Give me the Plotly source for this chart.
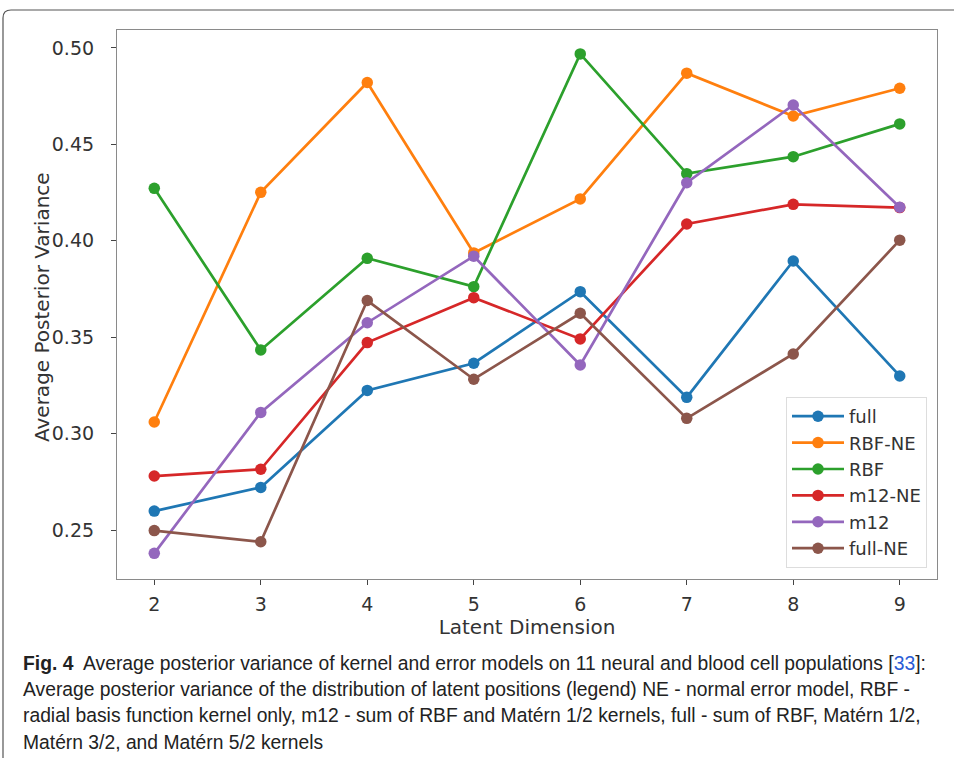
import plotly.graph_objects as go

dims = [2, 3, 4, 5, 6, 7, 8, 9]
full = [0.2598, 0.2721, 0.3224, 0.3365, 0.3736, 0.3188, 0.3895, 0.3299]
rbf_ne = [0.3060, 0.4251, 0.4821, 0.3937, 0.4217, 0.4869, 0.4647, 0.4791]
rbf = [0.4272, 0.3434, 0.3909, 0.3762, 0.4969, 0.4348, 0.4436, 0.4606]
m12_ne = [0.2780, 0.2815, 0.3472, 0.3705, 0.3491, 0.4087, 0.4189, 0.4172]
m12 = [0.2379, 0.3110, 0.3575, 0.3920, 0.3356, 0.4301, 0.4704, 0.4174]
full_ne = [0.2497, 0.2439, 0.3690, 0.3282, 0.3624, 0.3079, 0.3413, 0.4003]

series = [
    ("full", full, "#1f77b4"),
    ("RBF-NE", rbf_ne, "#ff7f0e"),
    ("RBF", rbf, "#2ca02c"),
    ("m12-NE", m12_ne, "#d62728"),
    ("m12", m12, "#9467bd"),
    ("full-NE", full_ne, "#8c564b"),
]

y_ticks = [0.25, 0.30, 0.35, 0.40, 0.45, 0.50]
y_ticklabels = ["0.25", "0.30", "0.35", "0.40", "0.45", "0.50"]

caption_lines = [
    "<b>Fig. 4</b>  Average posterior variance of kernel and error models on 11 neural and blood cell populations [<span style='color:#2a5cd6'>33</span>]:",
    "Average posterior variance of the distribution of latent positions (legend) NE - normal error model, RBF -",
    "radial basis function kernel only, m12 - sum of RBF and Matérn 1/2 kernels, full - sum of RBF, Matérn 1/2,",
    "Matérn 3/2, and Matérn 5/2 kernels",
]

W, H = 954, 758
L, R, T, B = 117, 937, 30, 579
PW, PH = R - L, B - T

def px(x):
    return (x - L) / PW

def py(y):
    return (B - y) / PH

fig = go.Figure()
for name, vals, col in series:
    fig.add_trace(go.Scatter(
        x=dims, y=vals, name=name, mode="lines+markers",
        line=dict(color=col, width=2.7),
        marker=dict(color=col, size=11.5),
    ))

font_main = "DejaVu Sans"
annotations = []
cap_y = [663, 689, 715, 742]
for txt, yy in zip(caption_lines, cap_y):
    annotations.append(dict(
        text=txt, xref="paper", yref="paper", x=px(21), y=py(yy),
        xanchor="left", yanchor="middle", showarrow=False, align="left",
        font=dict(family="Liberation Sans, Arial, sans-serif", size=19.3, color="#222"),
    ))

# y-axis title as a rotated annotation for precise placement
annotations.append(dict(
    text="Average Posterior Variance", xref="paper", yref="paper",
    x=px(42), y=py(307), xanchor="center", yanchor="middle", textangle=-90,
    showarrow=False, font=dict(family=font_main, size=20, color="#333"),
))

# frame path (rounded top-left corner)
x0, y0, r = 3, 10, 8
xr, yb = 970, 775
path = (f"M {px(xr)},{py(y0)} L {px(x0 + r)},{py(y0)} "
        f"Q {px(x0)},{py(y0)} {px(x0)},{py(y0 + r)} L {px(x0)},{py(yb)}")

fig.update_layout(
    width=W, height=H,
    margin=dict(l=L, r=W - R, t=T, b=H - B),
    paper_bgcolor="white", plot_bgcolor="white",
    font=dict(family=font_main, size=19, color="#333"),
    showlegend=True,
    legend=dict(
        x=px(927), y=py(568), xanchor="right", yanchor="bottom",
        bgcolor="rgba(255,255,255,0.85)", bordercolor="#dddddd", borderwidth=1,
        font=dict(family=font_main, size=18, color="#333"),
        itemwidth=52,
    ),
    xaxis=dict(
        range=[1.65, 9.35], tickvals=dims, ticktext=[str(d) for d in dims],
        showgrid=False, zeroline=False, showline=True, linecolor="#8a8a8a",
        linewidth=1.2, mirror=True, ticks="outside", ticklen=5, tickcolor="#444",
        tickfont=dict(size=19, color="#333"), ticklabelstandoff=3,
        title=dict(text="Latent Dimension", font=dict(size=20, color="#333"), standoff=4),
    ),
    yaxis=dict(
        range=[0.2246, 0.5093], tickvals=y_ticks, ticktext=y_ticklabels,
        showgrid=False, zeroline=False, showline=True, linecolor="#8a8a8a",
        linewidth=1.2, mirror=True, ticks="outside", ticklen=5, tickcolor="#444",
        tickfont=dict(size=19, color="#333"), ticklabelstandoff=13,
    ),
    annotations=annotations,
    shapes=[dict(type="path", path=path, xref="paper", yref="paper",
                 line=dict(color="#555", width=1.2), layer="above")],
)

fig.write_html(
    "out.html",
    config={"displayModeBar": False},
    post_script="document.body.style.margin='0px';document.body.style.padding='0px';",
)
